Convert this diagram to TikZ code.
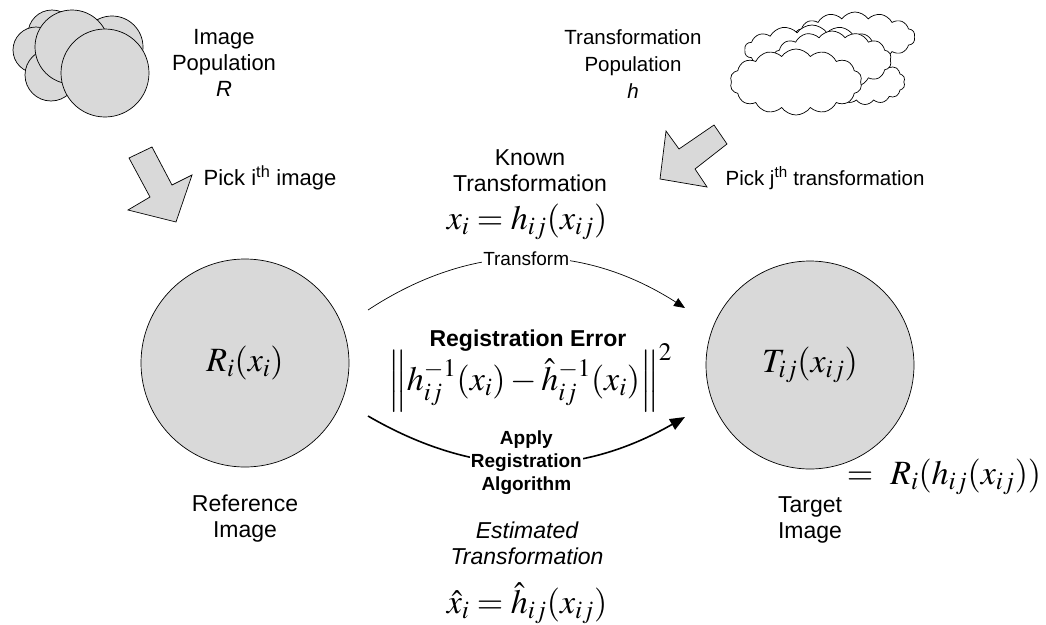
\documentclass[tikz,border=0pt]{standalone}
\usepackage{mathptmx}
\usepackage{fontspec}
\setmainfont{Liberation Sans}
\usetikzlibrary{arrows.meta, shapes.symbols, positioning, calc}
\definecolor{popgray}{RGB}{217,217,217}

\begin{document}
\begin{tikzpicture}[x=1pt, y=-1pt, >=Latex, line width=0.7pt]
    % Define styles locally
    \tikzstyle{img} = [circle, draw, fill=popgray, minimum size=208pt, inner sep=0pt]
    \tikzstyle{txt} = [align=center, font=\fontsize{22}{26}\selectfont, inner sep=0pt]
    \tikzstyle{midtxt} = [align=center, font=\fontsize{23}{26}\selectfont, inner sep=0pt]
    \tikzstyle{small} = [align=center, font=\bfseries\fontsize{19}{23}\selectfont, inner sep=1pt]
    \tikzstyle{eq} = [font=\fontsize{34}{40}\selectfont, inner sep=0pt]
    \tikzstyle{blob} = [circle, draw, fill=popgray, inner sep=0pt]
    \tikzstyle{puff} = [cloud, cloud puffs=14, cloud puff arc=110, draw, fill=white, inner sep=0pt]
    \tikzstyle{pick} = [draw, fill=popgray, line join=miter]

    \useasboundingbox (0,0) rectangle (1046,624);

    % Image population (bubbles)
    \node[blob, minimum size=48pt] (B1) at (52,34) {};
    \node[blob, minimum size=62pt] (B2) at (112,47) {};
    \node[blob, minimum size=46pt] (B3) at (36,50) {};
    \node[blob, minimum size=52pt] (B4) at (51,75) {};
    \node[blob, minimum size=74pt] (B5) at (72,47) {};
    \node[blob, minimum size=88pt] (B6) at (105,73) {};
    \node[txt] (ImgPop) at (224,63) {Image\\Population\\\textit{R}};

    % Transformation population (clouds)
    \node[puff, minimum width=120pt, minimum height=50pt] (C1) at (855,37) {};
    \node[puff, minimum width=135pt, minimum height=50pt] (C2) at (812,50) {};
    \node[puff, minimum width=80pt, minimum height=45pt] (C3) at (865,82) {};
    \node[puff, minimum width=119pt, minimum height=58pt] (C4) at (832,60) {};
    \node[puff, minimum width=132pt, minimum height=66pt] (C5) at (796,82) {};
    \node[txt, font=\fontsize{20.5}{27}\selectfont] (TrPop) at (633,64) {Transformation\\Population\\\textit{h}};

    % Pick arrows
    \draw[pick] (129,158) -- (152,147) -- (172,185) -- (192,175) -- (176,222)
        -- (128,210) -- (150,197) -- cycle;
    \node[txt] (PickI) at (270,178) {Pick i\textsuperscript{th} image};
    \draw[pick] (660,179) -- (666,131) -- (679,149) -- (714,125) -- (727,144)
        -- (695,169) -- (707,187) -- cycle;
    \node[txt, font=\fontsize{20.5}{24}\selectfont] (PickJ) at (825,178) {Pick j\textsuperscript{th} transformation};

    % Images
    \node[img] (Ref) at (245,363) {};
    \node[eq] at (Ref) {$R_i(x_i)$};
    \node[midtxt, below=27pt of Ref] (RefLbl) {Reference\\Image};
    \node[img] (Tgt) at (810,365) {};
    \node[eq] at (Tgt) {$T_{ij}(x_{ij})$};
    \node[midtxt, below=27pt of Tgt] (TgtLbl) {Target\\Image};
    \node[eq] (TgtEq) at (944,477) {$=\ R_i(h_{ij}(x_{ij}))$};

    % Known transformation
    \node[midtxt] (Known) at (530,171) {Known\\Transformation};
    \node[eq] (KnownEq) at (527,222) {$x_i = h_{ij}(x_{ij})$};
    \coordinate (tf-a) at (368,310);
    \coordinate (tf-b) at (685,308);
    \draw[-{Triangle[length=11pt,width=9pt]}] (tf-a) to[bend left=33]
        node[fill=white, inner sep=1pt, font=\fontsize{19}{23}\selectfont] {Transform} (tf-b);

    % Registration error
    \node[midtxt, font=\bfseries\fontsize{23}{26}\selectfont] (RegErr) at (528,341) {Registration Error};
    \node[eq] (ErrEq) at (530,378) {$\left\| h_{ij}^{-1}(x_i) - \hat{h}_{ij}^{-1}(x_i) \right\|^2$};

    % Estimated transformation
    \coordinate (ap-a) at (368,416);
    \coordinate (ap-b) at (685,417);
    \draw[line width=1.6pt, -{Triangle[length=15pt,width=12pt]}] (ap-a) to[bend right=30]
        node[small, fill=white] {Apply\\Registration\\Algorithm} (ap-b);
    \node[midtxt, font=\itshape\fontsize{23}{26}\selectfont] (Est) at (527,543) {Estimated\\Transformation};
    \node[eq] (EstEq) at (527,603) {$\hat{x}_i = \hat{h}_{ij}(x_{ij})$};
\end{tikzpicture}
\end{document}
